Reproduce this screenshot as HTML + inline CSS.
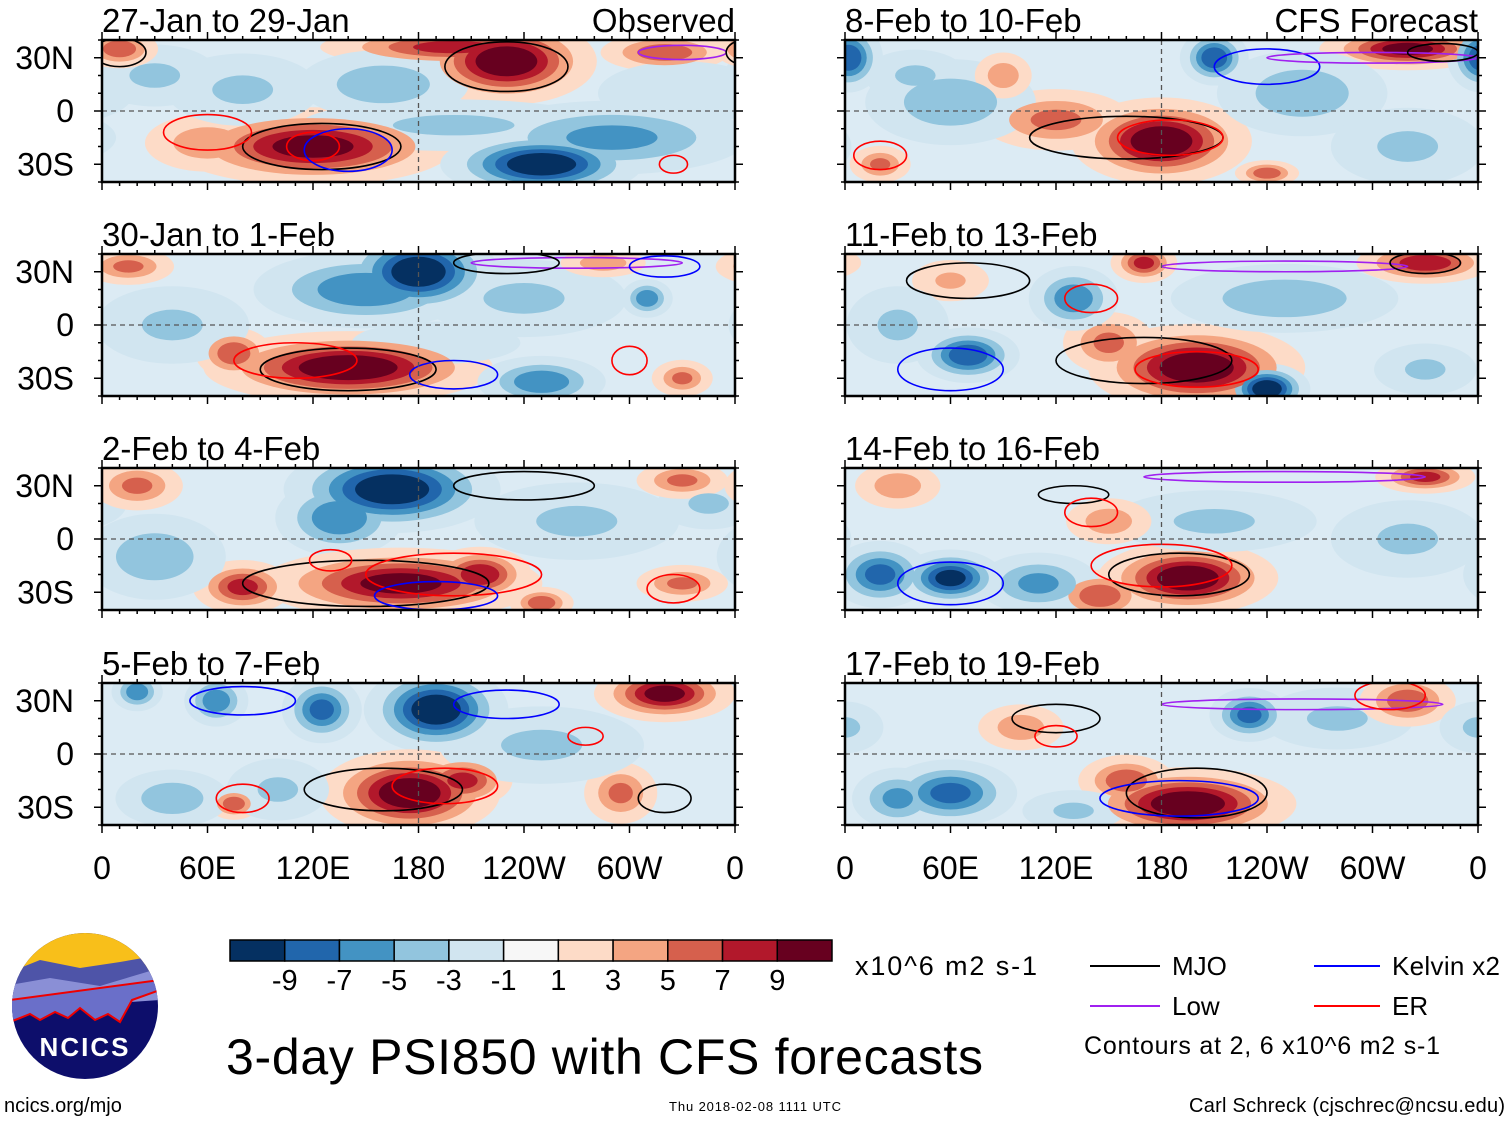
<!DOCTYPE html>
<html><head><meta charset="utf-8"><style>
html,body{margin:0;padding:0;background:#fff}
svg{display:block;font-family:"Liberation Sans",sans-serif}
</style></head><body>
<svg id="fig" width="1510" height="1121" viewBox="0 0 1510 1121">
<defs id="defs"></defs>
<g id="panels"></g>
<g id="axes"></g>
<g id="cbar"></g>
<text x="855" y="975" font-size="27" textLength="182">x10^6 m2 s-1</text>
<g>
<line x1="1090" y1="966" x2="1160" y2="966" stroke="#000" stroke-width="2"/>
<text x="1172" y="975" font-size="26">MJO</text>
<line x1="1090" y1="1006" x2="1160" y2="1006" stroke="#a020f0" stroke-width="2"/>
<text x="1172" y="1015" font-size="26">Low</text>
<line x1="1314" y1="966" x2="1380" y2="966" stroke="#0000ff" stroke-width="2"/>
<text x="1392" y="975" font-size="26" textLength="108">Kelvin x2</text>
<line x1="1314" y1="1006" x2="1380" y2="1006" stroke="#ff0000" stroke-width="2"/>
<text x="1392" y="1015" font-size="26">ER</text>
<text x="1084" y="1054" font-size="25" textLength="356">Contours at 2, 6 x10^6 m2 s-1</text>
</g>
<text x="226" y="1074" font-size="50" textLength="757">3-day PSI850 with CFS forecasts</text>
<text x="4" y="1112" font-size="20">ncics.org/mjo</text>
<text x="669" y="1111" font-size="13" textLength="172">Thu 2018-02-08 1111 UTC</text>
<text x="1505" y="1112" font-size="20" text-anchor="end" textLength="316">Carl Schreck (cjschrec@ncsu.edu)</text>
<g>
<clipPath id="logoclip"><circle cx="85" cy="1006" r="73"/></clipPath>
<g clip-path="url(#logoclip)">
<rect x="10" y="930" width="150" height="150" fill="#0d0e6b"/>
<rect x="10" y="930" width="150" height="42" fill="#f8bf1a"/>
<path d="M10 972 L40 960 L80 968 L120 962 L160 955 L160 990 L10 1000Z" fill="#4e54a8"/>
<path d="M10 985 L50 978 L100 986 L160 968 L160 1000 L10 1010Z" fill="#8a8fd6"/>
<path d="M10 1022 L30 1014 L40 1020 L55 1012 L68 1018 L80 1008 L95 1020 L108 1014 L120 1022 L132 1000 L160 990 L160 980 L10 1000Z" fill="#6a6fc9" stroke="#e00" stroke-width="2"/>
</g>
<text x="85" y="1056" font-size="26" font-weight="bold" fill="#fff" text-anchor="middle" letter-spacing="2">NCICS</text>
</g>
</svg>
<script>
// ---- data ----
const panelTitles = ["27-Jan to 29-Jan","30-Jan to 1-Feb","2-Feb to 4-Feb","5-Feb to 7-Feb","8-Feb to 10-Feb","11-Feb to 13-Feb","14-Feb to 16-Feb","17-Feb to 19-Feb"];
const levels = [1,3,5,7,9];
const colorbarLabels = ["-9","-7","-5","-3","-1","1","3","5","7","9"];
const lonTickLabels = ["0","60E","120E","180","120W","60W","0"];
const lonTicks = [0,60,120,180,240,300,360];
const latTickLabels = ["30N","0","30S"];
const latTicks = [30,0,-30];
// anomaly centers per panel: [lon, lat, value, lonSpread, latSpread]
const anomP1 = [[230,28,10,25,12],[200,36,7,40,6],[320,33,6,20,6],[120,-20,9,40,11],[60,-18,4,22,10],[250,-30,-10,28,9],[290,-15,-5,45,12],[200,-8,-3,60,10],[30,20,-3,25,12],[330,10,-2,40,15],[160,15,-4,30,12],[80,12,-3,30,14],[10,35,6,12,6]];
const anomP2 = [[140,-24,10,40,10],[75,-16,6,12,8],[180,30,-10,22,12],[150,20,-6,35,12],[240,15,-3,40,15],[310,15,-6,8,6],[40,0,-3,30,15],[250,-32,-6,20,8],[15,33,5,15,6],[330,-30,5,10,6],[285,35,4,15,5],[190,-10,-2,40,10]];
const anomP3 = [[165,28,-10,30,12],[135,12,-6,20,12],[170,-25,9,40,10],[80,-27,7,15,8],[215,-20,8,15,8],[250,-36,6,10,5],[30,-10,-4,25,15],[270,10,-3,40,15],[330,-25,5,15,6],[345,20,-3,20,10],[20,30,5,15,8],[330,33,5,15,6]];
const anomP4 = [[190,25,-10,20,12],[125,25,-7,12,10],[65,30,-6,10,8],[20,35,-6,8,6],[320,34,9,20,8],[175,-22,10,25,12],[205,-15,7,15,8],[75,-28,6,8,5],[295,-22,5,12,10],[100,-20,-3,20,12],[250,5,-3,40,15],[40,-25,-4,20,10]];
const anomP5 = [[180,-17,10,25,12],[120,-5,5,25,10],[320,35,9,25,6],[2,30,-8,10,10],[210,30,-8,10,8],[260,10,-4,30,15],[60,5,-4,30,15],[320,-20,-3,30,15],[20,-30,5,10,6],[90,20,4,10,8],[240,-35,6,10,4],[40,20,-3,20,10]];
const anomP6 = [[200,-24,10,30,12],[150,-10,5,15,10],[240,-36,-10,12,7],[70,-17,-8,15,8],[130,15,-6,14,10],[250,15,-4,40,12],[330,35,8,20,6],[170,35,7,10,6],[60,25,3,15,8],[30,0,-3,20,15],[330,-25,-3,20,10]];
const anomP7 = [[195,-22,10,25,10],[145,-32,6,15,8],[30,30,4,15,8],[60,-22,-9,15,8],[20,-20,-7,15,10],[110,-25,-5,20,10],[210,10,-3,40,12],[320,0,-3,30,15],[330,35,7,15,5],[150,10,4,15,8]];
const anomP8 = [[195,-28,10,30,10],[160,-15,6,15,8],[60,-22,-7,20,10],[30,-25,-5,15,10],[100,15,4,15,8],[230,22,-7,12,8],[280,20,-3,30,12],[320,30,6,15,8],[130,-32,-3,20,8],[0,15,-3,15,10]];
const anomalies = [anomP1,anomP2,anomP3,anomP4,anomP5,anomP6,anomP7,anomP8];
// contour outlines per panel: [type, lon, lat, lonRadius, latRadius]
const contP1 = [["mjo",125,-20,45,13],["mjo",230,25,35,14],["er",60,-12,25,10],["er",120,-20,15,8],["kel",140,-22,25,12],["low",330,33,25,4],["er",325,-30,8,5],["mjo",10,33,15,8]];
const contP2 = [["mjo",140,-25,50,12],["er",110,-20,35,10],["kel",200,-28,25,8],["low",270,35,60,3],["er",300,-20,10,8],["mjo",230,35,30,6],["kel",320,33,20,6]];
const contP3 = [["mjo",150,-25,70,13],["er",200,-20,50,12],["kel",190,-32,35,8],["er",130,-12,12,6],["mjo",240,30,40,8],["er",325,-28,15,8]];
const contP4 = [["mjo",160,-20,45,12],["er",195,-18,30,10],["kel",80,30,30,8],["er",80,-25,15,8],["mjo",320,-25,15,8],["kel",230,28,30,8],["er",275,10,10,5]];
const contP5 = [["mjo",160,-15,55,12],["er",185,-15,30,10],["kel",240,25,30,10],["low",300,30,60,3],["mjo",340,33,20,5],["er",20,-25,15,8]];
const contP6 = [["mjo",170,-20,50,13],["er",200,-25,35,10],["kel",60,-25,30,12],["mjo",70,25,35,10],["er",140,15,15,8],["low",250,33,70,3],["mjo",330,35,20,6]];
const contP7 = [["mjo",190,-20,40,12],["er",180,-15,40,12],["kel",60,-25,30,12],["mjo",130,25,20,5],["er",140,15,15,8],["low",250,35,80,3]];
const contP8 = [["mjo",200,-22,40,14],["kel",190,-25,45,10],["mjo",120,20,25,8],["er",120,10,12,6],["low",260,28,80,3],["er",310,33,20,8]];
const contours = [contP1,contP2,contP3,contP4,contP5,contP6,contP7,contP8];

// ---- layout ----
const NS='http://www.w3.org/2000/svg';
const colX=[102,845], rowY=[40,254,468,683], PW=633, PH=142;
const SPREAD=1.35;
const posCols=['#fddbc7','#f4a582','#d6604d','#b2182b','#67001f'];
const negCols=['#d1e5f0','#92c5de','#4393c3','#2166ac','#053061'];
const contCol={mjo:'#000',er:'#ff0000',kel:'#0000ff',low:'#a020f0'};
function mk(tag,attrs,parent){const e=document.createElementNS(NS,tag);for(const k in attrs)e.setAttribute(k,attrs[k]);if(parent)parent.appendChild(e);return e;}
const panelsG=document.getElementById('panels');
const defs=document.getElementById('defs');

anomalies.forEach((blobs,p)=>{
  const x0=colX[p<4?0:1], y0=rowY[p%4];
  const xs=lon=>x0+lon/360*PW;
  const ys=lat=>y0+(40-lat)/80*PH;
  const g=mk('g',{},panelsG);
  
  
  const cp=mk('clipPath',{id:'cp'+p},defs);
  mk('rect',{x:x0,y:y0,width:PW,height:PH},cp);
  const inner=mk('g',{'clip-path':'url(#cp'+p+')'},g);
  mk('rect',{x:x0,y:y0,width:PW,height:PH,fill:'#dcebf4'},inner);
  levels.forEach((t,li)=>{
    blobs.forEach(b=>{
      const a=Math.abs(b[2]); if(a<t) return;
      const d=SPREAD*Math.sqrt(Math.log(a/t+0.2));
      [-360,0,360].forEach(off=>{
        const el=mk('ellipse',{cx:xs(b[0]+off),cy:ys(b[1]),rx:b[3]*d/360*PW,ry:b[4]*d/80*PH,fill:b[2]>0?posCols[li]:negCols[li]},inner);
        
        
      });
    });
  });
  contours[p].forEach(c=>{
    [-360,0,360].forEach(off=>{
      const el=mk('ellipse',{cx:xs(c[1]+off),cy:ys(c[2]),rx:c[3]/360*PW,ry:c[4]/80*PH,fill:'none',stroke:contCol[c[0]],'stroke-width':1.6},inner);
      
      
    });
  });
  mk('line',{x1:x0,y1:ys(0),x2:x0+PW,y2:ys(0),stroke:'#555','stroke-width':1.3,'stroke-dasharray':'5,4'},inner);
  mk('line',{x1:xs(180),y1:y0,x2:xs(180),y2:y0+PH,stroke:'#555','stroke-width':1.3,'stroke-dasharray':'5,4'},inner);
  mk('rect',{x:x0,y:y0,width:PW,height:PH,fill:'none',stroke:'#000','stroke-width':2.5},g);
  for(let l=0;l<=360;l+=10){const L=(l%60==0)?8:4;
    mk('line',{x1:xs(l),y1:y0,x2:xs(l),y2:y0-L,stroke:'#000','stroke-width':1.5},g);
    mk('line',{x1:xs(l),y1:y0+PH,x2:xs(l),y2:y0+PH+L,stroke:'#000','stroke-width':1.5},g);}
  for(let la=-40;la<=40;la+=10){const L=(la%30==0)?8:4;
    mk('line',{x1:x0,y1:ys(la),x2:x0-L,y2:ys(la),stroke:'#000','stroke-width':1.5},g);
    mk('line',{x1:x0+PW,y1:ys(la),x2:x0+PW+L,y2:ys(la),stroke:'#000','stroke-width':1.5},g);}
  const tt=mk('text',{x:x0,y:y0-8,'font-size':33},g); tt.textContent=panelTitles[p];
  
  
  if(p==0||p==4){const lb=mk('text',{x:x0+PW,y:y0-8,'font-size':33,'text-anchor':'end'},g);lb.textContent=p==0?'Observed':'CFS Forecast';
    
    }
  if(p<4){
  latTicks.forEach((la,i)=>{const t=mk('text',{x:x0-28,y:ys(la)+11,'font-size':32,'text-anchor':'end'},g);t.textContent=latTickLabels[i];
    
    });
  }
});
const axes=document.getElementById('axes');
colX.forEach(x0=>{lonTicks.forEach((l,i)=>{const t=mk('text',{x:x0+l/360*PW,y:879,'font-size':32,'text-anchor':'middle'},axes);t.textContent=lonTickLabels[i];
  
  });});
const cb=document.getElementById('cbar');
const cbCols=negCols.slice().reverse().concat(['#f7f7f7']).concat(posCols);
const bw=602/11;
cbCols.forEach((c,i)=>{const r=mk('rect',{x:230+i*bw,y:940,width:bw,height:21,fill:c,stroke:'#000','stroke-width':1.5},cb);
  
  });
colorbarLabels.forEach((s,i)=>{const t=mk('text',{x:230+(i+1)*bw,y:990,'font-size':29,'text-anchor':'middle'},cb);t.textContent=s;
  
  });
</script>
</body></html>
